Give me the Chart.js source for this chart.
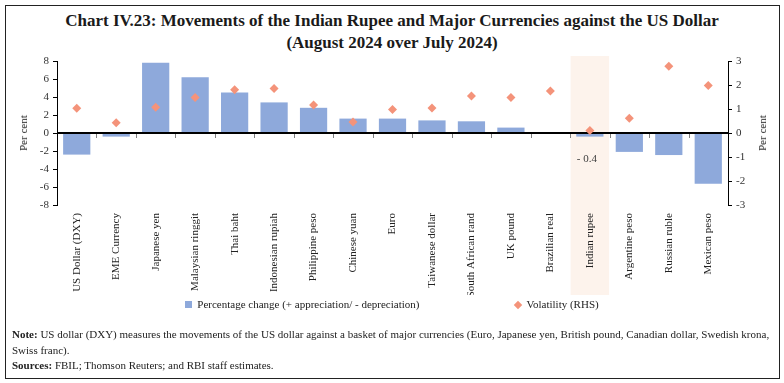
<!DOCTYPE html>
<html>
<head>
<meta charset="utf-8">
<script src="https://cdn.jsdelivr.net/npm/chart.js@4.4.1/dist/chart.umd.min.js"></script>
<style>
html,body{margin:0;padding:0;background:#fff;}
#wrap{position:relative;width:784px;height:383px;overflow:hidden;font-family:"Liberation Serif",serif;color:#222;}
#frame{position:absolute;left:5px;top:5px;width:775px;height:374px;border:1px solid #222;box-sizing:border-box;}
#title{position:absolute;left:0;top:10px;width:784px;text-align:center;font-size:17px;font-weight:bold;line-height:22px;color:#1a1a1a;}
#cv{position:absolute;left:0;top:0;}
.ytitle{position:absolute;font-size:11px;white-space:nowrap;transform:translate(-50%,-50%) rotate(-90deg);color:#222;}
#legend{position:absolute;left:0;top:297px;width:784px;text-align:center;font-size:11px;white-space:nowrap;color:#222;}
#legend span.item{display:inline-block;vertical-align:middle;}
.sq{display:inline-block;width:7px;height:7px;background:#8EA9DB;margin-right:5px;vertical-align:middle;position:relative;top:-1px;}
.dm{display:inline-block;width:6px;height:6px;background:#F4937A;margin-right:5px;transform:rotate(45deg);vertical-align:middle;position:relative;top:-1px;}
#note{position:absolute;left:12px;top:327px;font-size:11px;line-height:15.5px;white-space:nowrap;color:#222;}
</style>
</head>
<body>
<div id="wrap">
  <div id="frame"></div>
  <div id="title">Chart IV.23: Movements of the Indian Rupee and Major Currencies against the US Dollar<br>(August 2024 over July 2024)</div>
  <canvas id="cv" width="784" height="383"></canvas>
  <div class="ytitle" style="left:23px;top:133px;">Per cent</div>
  <div class="ytitle" style="left:762px;top:133px;">Per cent</div>
  <div id="legend"><span class="item"><span class="sq"></span>Percentage change (+ appreciation/ - depreciation)</span><span class="item" style="margin-left:96px;"><span class="dm"></span>Volatility (RHS)</span></div>
  <div id="note"><b>Note:</b> US dollar (DXY) measures the movements of the US dollar against a basket of major currencies (Euro, Japanese yen, British pound, Canadian dollar, Swedish krona,<br>Swiss franc).<br><b>Sources:</b> FBIL; Thomson Reuters; and RBI staff estimates.</div>
</div>
<script>
const categories = ["US Dollar (DXY)","EME Currency","Japanese yen","Malaysian ringgit","Thai baht","Indonesian rupiah","Philippine peso","Chinese yuan","Euro","Taiwanese dollar","South African rand","UK pound","Brazilian real","Indian rupee","Argentine peso","Russian ruble","Mexican peso"];
const percentageChange = [-2.4,-0.4,7.8,6.2,4.5,3.4,2.8,1.6,1.6,1.4,1.3,0.6,0.02,-0.4,-2.1,-2.45,-5.65];
const volatility = [1.03,0.43,1.07,1.48,1.8,1.85,1.17,0.46,0.98,1.04,1.54,1.48,1.75,0.1,0.61,2.78,1.98];
const leftAxisRange = [-8, 8, 2];
const rightAxisRange = [-3, 3, 1];
const highlightCategory = "Indian rupee";

const tickFont = {family:"Liberation Serif", size:11};

const decor = {
  id:'decor',
  beforeDraw(chart){
    const ctx = chart.ctx, x = chart.scales.x, ca = chart.chartArea;
    const i = categories.indexOf(highlightCategory);
    const w = x.getPixelForValue(1) - x.getPixelForValue(0);
    const cx = x.getPixelForValue(i);
    ctx.save();
    ctx.fillStyle = '#FDF3EC';
    ctx.fillRect(cx - w/2 + 0.5, ca.top - 5, w - 1, 239);
    ctx.restore();
  },
  afterDatasetDraw(chart, args){
    if (args.index !== 0) return;
    const ctx = chart.ctx, x = chart.scales.x, y = chart.scales.y, ca = chart.chartArea;
    const y0 = y.getPixelForValue(0);
    ctx.save();
    ctx.strokeStyle = '#7f7f7f';
    ctx.lineWidth = 1;
    for (let i = 1; i < categories.length; i++){
      const bx = Math.round((x.getPixelForValue(i-1) + x.getPixelForValue(i)) / 2) + 0.5;
      ctx.beginPath(); ctx.moveTo(bx, y0); ctx.lineTo(bx, y0 + 5); ctx.stroke();
    }
    ctx.strokeStyle = '#000';
    ctx.lineWidth = 2;
    ctx.beginPath(); ctx.moveTo(ca.left, y0); ctx.lineTo(ca.right, y0); ctx.stroke();
    ctx.restore();
  },
  afterDatasetsDraw(chart){
    const ctx = chart.ctx, x = chart.scales.x, y = chart.scales.y;
    const i = categories.indexOf(highlightCategory);
    const v = percentageChange[i];
    ctx.save();
    ctx.fillStyle = '#404040';
    ctx.font = '11px "Liberation Serif"';
    ctx.textAlign = 'center';
    ctx.textBaseline = 'middle';
    ctx.fillText((v < 0 ? '- ' : '') + Math.abs(v).toFixed(1), x.getPixelForValue(i) - 3, y.getPixelForValue(v) + 23);
    ctx.restore();
  }
};

new Chart(document.getElementById('cv'), {
  type:'bar',
  data:{
    labels: categories,
    datasets:[
      {type:'bar', label:'Percentage change (+ appreciation/ - depreciation)', data: percentageChange, yAxisID:'y', backgroundColor:'#8EA9DB', borderWidth:0, categoryPercentage:1, barPercentage:0.69, order:2},
      {type:'line', label:'Volatility (RHS)', data: volatility, yAxisID:'y1', showLine:false, pointStyle:'rectRot', pointRadius:4.5, pointBackgroundColor:'#F4937A', pointBorderColor:'#F4937A', pointBorderWidth:0, order:1}
    ]
  },
  options:{
    responsive:false, animation:false,
    layout:{padding:{left:5, right:6, top:61, bottom:88}},
    plugins:{legend:{display:false}, tooltip:{enabled:false}},
    scales:{
      x:{
        grid:{display:false, drawTicks:false}, border:{display:false},
        ticks:{autoSkip:false, minRotation:90, maxRotation:90, padding:8, color:'#222', font:tickFont},
        afterFit(s){ s.height = 90; }
      },
      y:{
        position:'left', min:leftAxisRange[0], max:leftAxisRange[1],
        ticks:{stepSize:leftAxisRange[2], color:'#333', padding:4, font:tickFont},
        grid:{drawOnChartArea:false, tickLength:4, color:'#000'},
        border:{color:'#000', width:1},
        afterFit(s){ s.width = 52; }
      },
      y1:{
        position:'right', min:rightAxisRange[0], max:rightAxisRange[1],
        ticks:{stepSize:rightAxisRange[2], color:'#333', padding:4, font:tickFont},
        grid:{drawOnChartArea:false, tickLength:4, color:'#000'},
        border:{color:'#000', width:1},
        afterFit(s){ s.width = 50; }
      }
    }
  },
  plugins:[decor]
});
</script>
</body>
</html>
